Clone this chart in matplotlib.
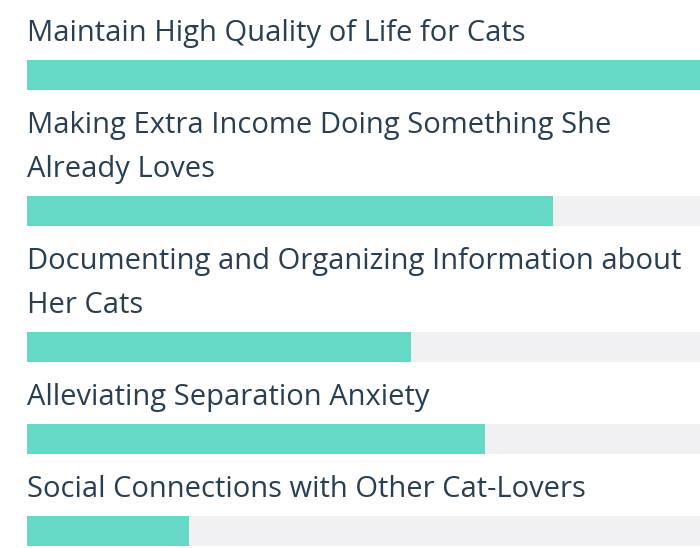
import matplotlib
matplotlib.use("Agg")
import matplotlib.pyplot as plt

# chart data
labels = [
    "Maintain High Quality of Life for Cats",
    "Making Extra Income Doing Something She\nAlready Loves",
    "Documenting and Organizing Information about\nHer Cats",
    "Alleviating Separation Anxiety",
    "Social Connections with Other Cat-Lovers",
]
values = [1.0, 0.782, 0.571, 0.681, 0.241]

BAR_COLOR = "#66d9c6"
TRACK_COLOR = "#f1f1f3"
TEXT_COLOR = "#2a3f4f"

W, H = 700, 548
fig = plt.figure(figsize=(W / 100, H / 100), dpi=100)
ax = fig.add_axes([27 / W, 0, 1 - 27 / W, 1])
ax.set_xlim(0, 1)
ax.set_ylim(H, 0)
ax.axis("off")

line_h = 44
bar_h = 30
prev_bottom = -2
for label, val in zip(labels, values):
    lines = label.split("\n")
    base = prev_bottom + 43
    for i, ln in enumerate(lines):
        ax.text(0, base + i * line_h, ln, fontsize=21, family="Open Sans",
                color=TEXT_COLOR, va="baseline", ha="left")
    bar_top = base + line_h * (len(lines) - 1) + 19
    center = bar_top + bar_h / 2
    ax.barh(center, 1.0, height=bar_h, color=TRACK_COLOR, left=0)
    ax.barh(center, val, height=bar_h, color=BAR_COLOR, left=0)
    prev_bottom = bar_top + bar_h

fig.savefig("out.png", dpi=100)
